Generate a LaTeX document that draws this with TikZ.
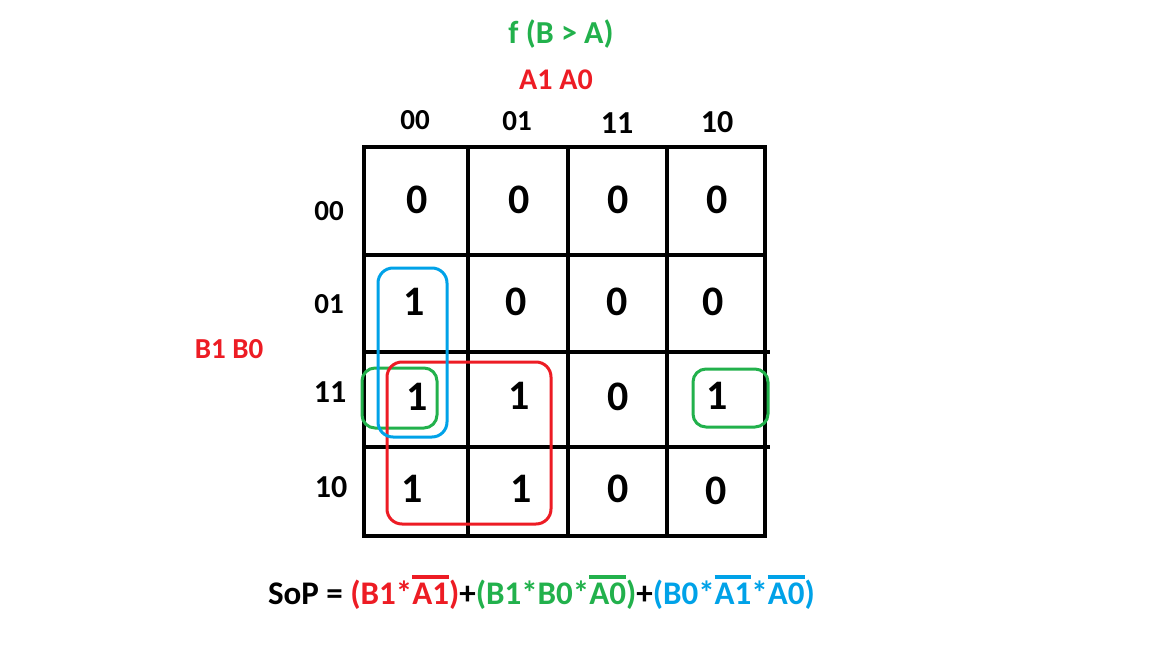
\documentclass[tikz,border=0pt]{standalone}
\usepackage{fontspec}
\setmainfont{Carlito}
\definecolor{pred}{RGB}{237,28,36}
\definecolor{pgreen}{RGB}{34,177,76}
\definecolor{pblue}{RGB}{0,162,232}
\newsavebox\olbox
\newcommand\olt[1]{\sbox\olbox{#1}\makebox[0pt][l]{\raisebox{25pt}{\rule{\wd\olbox}{3.8pt}}}\usebox\olbox}
\tikzset{
  cellval/.style={font=\bfseries\fontsize{42}{42}\selectfont, inner sep=0pt},
  lbl/.style={font=\bfseries\fontsize{29}{29}\selectfont, inner sep=0pt, anchor=base},
  lblb/.style={font=\bfseries\fontsize{32}{32}\selectfont, inner sep=0pt, anchor=base},
  grid/.style={line width=4pt, line cap=rect},
  loop/.style={line width=3pt, rounded corners=13pt},
}
\begin{document}
\begin{tikzpicture}[x=1pt,y=-1pt]
\useasboundingbox[fill=white] (0,0) rectangle (1152,648);
% title and variable labels
\node[font=\bfseries\fontsize{32}{32}\selectfont, text=pgreen, anchor=base, inner sep=0pt] (title) at (561,43) {f (B > A)};
\node[font=\bfseries\fontsize{30}{30}\selectfont, text=pred, anchor=base, inner sep=0pt] (avar) at (556,89) {A1 A0};
\node[font=\bfseries\fontsize{29}{29}\selectfont, text=pred, anchor=base, inner sep=0pt] (bvar) at (229,358) {B1 B0};
% column labels
\node[lbl] (c1) at (415,129) {00};
\node[lbl] (c2) at (517,130) {01};
\node[lblb] (c3) at (617,133) {11};
\node[lblb] (c4) at (717,132) {10};
% row labels
\node[lbl] (r1) at (329,220) {00};
\node[lbl] (r2) at (329,313) {01};
\node[lblb] (r3) at (330,402) {11};
\node[lblb] (r4) at (331,497) {10};
% grid
\draw[grid] (364,147) rectangle (765,536);
\foreach \x in {468,568,667} \draw[grid] (\x,147) -- (\x,536);
\draw[grid] (364,255) -- (765,255);
\draw[grid] (364,352) -- (768,352);
\draw[grid] (364,447) -- (768,447);
% cell values
\node[cellval] (v11) at (417,200) {0};
\node[cellval] (v12) at (519,200) {0};
\node[cellval] (v13) at (618,200) {0};
\node[cellval] (v14) at (717,200) {0};
\node[cellval] (v21) at (414.5,302) {1};
\node[cellval] (v22) at (516,302) {0};
\node[cellval] (v23) at (617,302) {0};
\node[cellval] (v24) at (713,302) {0};
\node[cellval] (v31) at (417,397) {1};
\node[cellval] (v32) at (519,396) {1};
\node[cellval] (v33) at (618.5,397) {0};
\node[cellval] (v34) at (717,396) {1};
\node[cellval] (v41) at (412,489) {1};
\node[cellval] (v42) at (521,489) {1};
\node[cellval] (v43) at (618,489) {0};
\node[cellval] (v44) at (716.5,491) {0};
% groupings
\draw[loop, pgreen] (362,368) rectangle (437,428);
\draw[loop, pgreen] (693,369) rectangle (768,427);
\draw[loop, pred, rounded corners=15pt] (387,362) rectangle (551,524);
\draw[loop, pblue, rounded corners=15pt] (378,268) rectangle (447,437);
% expression
\node[font=\bfseries\fontsize{33}{33}\selectfont, anchor=base, inner sep=0pt] (sop) at (541.5,604)
  {SoP = {\color{pred}(B1*\olt{A1})}+{\color{pgreen}(B1*B0*\olt{A0})}+{\color{pblue}(B0*\olt{A1}*\olt{A0})}};
\end{tikzpicture}
\end{document}
